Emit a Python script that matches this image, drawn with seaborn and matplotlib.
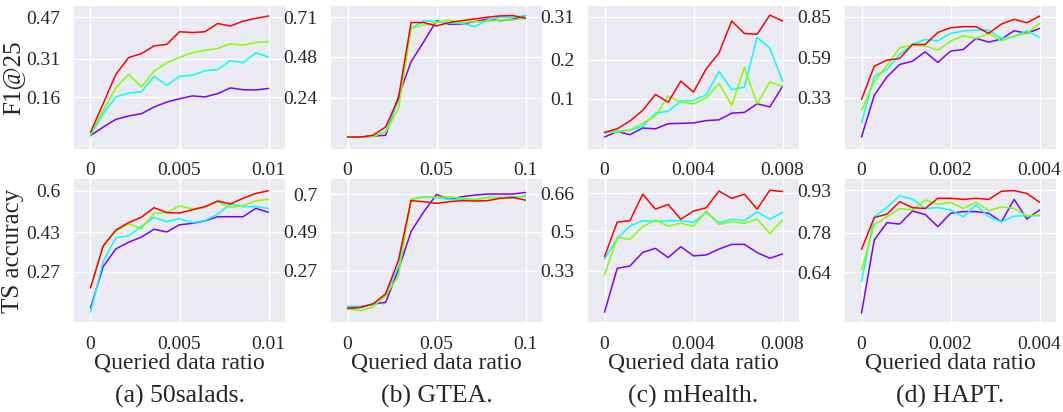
import numpy as np
import pandas as pd
import matplotlib
matplotlib.use('Agg')
import matplotlib.pyplot as plt
import seaborn as sns

sns.set_theme(style='darkgrid')
plt.rcParams['font.family'] = ['Liberation Serif', 'DejaVu Serif']

# method order: red, green, cyan, purple
methods = ['red', 'green', 'cyan', 'purple']
palette = {'red': '#ff0000', 'green': '#80ff00', 'cyan': '#00ffff', 'purple': '#8000ff'}

datasets = ['50salads', 'GTEA', 'mHealth', 'HAPT']
captions = ['(a) 50salads.', '(b) GTEA.', '(c) mHealth.', '(d) HAPT.']
ratio_max = [0.01, 0.1, 0.008, 0.004]
xtick_vals = [[0, 0.005, 0.01], [0, 0.05, 0.1], [0, 0.004, 0.008], [0, 0.002, 0.004]]
xtick_labels = [['0', '0.005', '0.01'], ['0', '0.05', '0.1'], ['0', '0.004', '0.008'], ['0', '0.002', '0.004']]

# F1@25
f1_50salads = {
    'red':    [0.024, 0.135, 0.249, 0.314, 0.329, 0.359, 0.365, 0.414, 0.411, 0.414, 0.446, 0.436, 0.455, 0.466, 0.475],
    'green':  [0.018, 0.109, 0.197, 0.249, 0.200, 0.261, 0.294, 0.314, 0.333, 0.342, 0.349, 0.367, 0.362, 0.372, 0.376],
    'cyan':   [0.011, 0.096, 0.161, 0.176, 0.181, 0.241, 0.206, 0.241, 0.245, 0.263, 0.267, 0.302, 0.294, 0.332, 0.316],
    'purple': [0.011, 0.044, 0.074, 0.087, 0.096, 0.122, 0.141, 0.154, 0.165, 0.161, 0.174, 0.196, 0.189, 0.188, 0.194],
}
f1_gtea = {
    'red':    [0.009, 0.009, 0.019, 0.068, 0.234, 0.679, 0.679, 0.659, 0.679, 0.690, 0.700, 0.710, 0.718, 0.720, 0.704],
    'green':  [0.009, 0.009, 0.013, 0.038, 0.175, 0.645, 0.665, 0.679, 0.694, 0.679, 0.685, 0.685, 0.694, 0.694, 0.704],
    'cyan':   [0.009, 0.009, 0.013, 0.042, 0.224, 0.645, 0.690, 0.683, 0.675, 0.675, 0.655, 0.694, 0.710, 0.710, 0.720],
    'purple': [0.009, 0.009, 0.015, 0.019, 0.244, 0.450, 0.567, 0.690, 0.669, 0.671, 0.685, 0.698, 0.690, 0.698, 0.720],
}
f1_mhealth = {
    'red':    [0.014, 0.023, 0.043, 0.070, 0.111, 0.091, 0.145, 0.117, 0.177, 0.217, 0.299, 0.267, 0.265, 0.314, 0.299],
    'green':  [0.014, 0.014, 0.020, 0.037, 0.055, 0.107, 0.091, 0.087, 0.102, 0.139, 0.083, 0.180, 0.087, 0.143, 0.131],
    'cyan':   [0.012, 0.017, 0.019, 0.029, 0.063, 0.068, 0.094, 0.096, 0.110, 0.170, 0.123, 0.130, 0.257, 0.229, 0.145],
    'purple': [0.002, 0.016, 0.008, 0.025, 0.023, 0.036, 0.037, 0.038, 0.044, 0.046, 0.063, 0.065, 0.087, 0.079, 0.132],
}
f1_hapt = {
    'red':    [0.321, 0.533, 0.572, 0.583, 0.672, 0.672, 0.749, 0.779, 0.786, 0.786, 0.743, 0.803, 0.833, 0.811, 0.854],
    'green':  [0.251, 0.433, 0.540, 0.651, 0.668, 0.662, 0.636, 0.694, 0.728, 0.711, 0.743, 0.696, 0.726, 0.743, 0.807],
    'cyan':   [0.170, 0.469, 0.512, 0.608, 0.672, 0.704, 0.696, 0.743, 0.758, 0.764, 0.764, 0.711, 0.722, 0.760, 0.717],
    'purple': [0.080, 0.347, 0.465, 0.544, 0.565, 0.625, 0.557, 0.630, 0.640, 0.711, 0.687, 0.707, 0.760, 0.743, 0.775],
}

# TS accuracy
ts_50salads = {
    'red':    [0.204, 0.375, 0.440, 0.470, 0.492, 0.531, 0.511, 0.509, 0.522, 0.535, 0.558, 0.546, 0.569, 0.589, 0.600],
    'green':  [0.204, 0.373, 0.436, 0.465, 0.446, 0.508, 0.511, 0.538, 0.526, 0.532, 0.555, 0.532, 0.539, 0.559, 0.565],
    'cyan':   [0.105, 0.312, 0.409, 0.416, 0.454, 0.492, 0.474, 0.486, 0.470, 0.478, 0.504, 0.546, 0.535, 0.535, 0.528],
    'purple': [0.122, 0.291, 0.363, 0.390, 0.411, 0.443, 0.432, 0.461, 0.467, 0.477, 0.494, 0.494, 0.494, 0.528, 0.512],
}
ts_gtea = {
    'red':    [0.061, 0.065, 0.084, 0.141, 0.328, 0.663, 0.657, 0.648, 0.657, 0.663, 0.661, 0.663, 0.676, 0.681, 0.666],
    'green':  [0.056, 0.048, 0.067, 0.130, 0.242, 0.672, 0.681, 0.681, 0.685, 0.676, 0.670, 0.681, 0.681, 0.676, 0.694],
    'cyan':   [0.071, 0.071, 0.080, 0.136, 0.294, 0.670, 0.685, 0.681, 0.670, 0.670, 0.666, 0.681, 0.681, 0.685, 0.685],
    'purple': [0.059, 0.065, 0.084, 0.093, 0.275, 0.490, 0.601, 0.698, 0.670, 0.685, 0.694, 0.700, 0.700, 0.700, 0.709],
}
ts_mhealth = {
    'red':    [0.391, 0.538, 0.544, 0.657, 0.593, 0.613, 0.550, 0.585, 0.599, 0.670, 0.639, 0.657, 0.593, 0.674, 0.668],
    'green':  [0.313, 0.472, 0.465, 0.518, 0.547, 0.521, 0.533, 0.521, 0.585, 0.528, 0.540, 0.533, 0.550, 0.490, 0.547],
    'cyan':   [0.380, 0.469, 0.521, 0.544, 0.540, 0.544, 0.544, 0.537, 0.579, 0.535, 0.550, 0.544, 0.582, 0.550, 0.579],
    'purple': [0.154, 0.341, 0.351, 0.409, 0.426, 0.387, 0.433, 0.394, 0.398, 0.423, 0.443, 0.443, 0.408, 0.384, 0.402],
}
ts_hapt = {
    'red':    [0.721, 0.833, 0.845, 0.889, 0.868, 0.865, 0.901, 0.901, 0.897, 0.901, 0.897, 0.926, 0.928, 0.918, 0.887],
    'green':  [0.648, 0.807, 0.836, 0.865, 0.860, 0.895, 0.880, 0.887, 0.865, 0.887, 0.857, 0.871, 0.865, 0.838, 0.842],
    'cyan':   [0.607, 0.836, 0.869, 0.910, 0.898, 0.865, 0.868, 0.860, 0.836, 0.877, 0.836, 0.818, 0.838, 0.840, 0.840],
    'purple': [0.496, 0.754, 0.815, 0.810, 0.856, 0.844, 0.801, 0.848, 0.854, 0.854, 0.848, 0.818, 0.897, 0.828, 0.860],
}

f1_data = [f1_50salads, f1_gtea, f1_mhealth, f1_hapt]
ts_data = [ts_50salads, ts_gtea, ts_mhealth, ts_hapt]

f1_yticks = [[0.16, 0.31, 0.47], [0.24, 0.48, 0.71], [0.1, 0.2, 0.31], [0.33, 0.59, 0.85]]
ts_yticks = [[0.27, 0.43, 0.6], [0.27, 0.49, 0.7], [0.33, 0.5, 0.66], [0.64, 0.78, 0.93]]
f1_ylim = [(-0.043, 0.518), (-0.064, 0.782), (-0.030, 0.340), (0.0, 0.925)]
ts_ylim = [(0.061, 0.65), (-0.0225, 0.7875), (0.108, 0.724), (0.461, 0.971)]

fig, axes = plt.subplots(2, 4, figsize=(10.63, 4.12), dpi=100)
fig.subplots_adjust(left=0.0687, right=0.9944, top=0.988, bottom=0.216, wspace=0.207, hspace=0.2)


def to_frame(d, xmax):
    x = np.linspace(0, xmax, len(d['red']))
    rows = []
    for m in ['purple', 'cyan', 'green', 'red']:
        for xi, yi in zip(x, d[m]):
            rows.append({'ratio': xi, 'value': yi, 'method': m})
    return pd.DataFrame(rows)


for row, (data, yticks, ylims) in enumerate([(f1_data, f1_yticks, f1_ylim), (ts_data, ts_yticks, ts_ylim)]):
    for col in range(4):
        ax = axes[row, col]
        df = to_frame(data[col], ratio_max[col])
        sns.lineplot(data=df, x='ratio', y='value', hue='method', palette=palette,
                     linewidth=1.1, legend=False, ax=ax, sort=False)
        xm = ratio_max[col]
        ax.set_xlim(-0.098 * xm, 1.098 * xm)
        ax.set_ylim(*ylims[col])
        ax.set_xticks(xtick_vals[col])
        ax.set_xticklabels(xtick_labels[col])
        ax.set_yticks(yticks[col])
        ax.set_yticklabels([str(v) for v in yticks[col]])
        ax.tick_params(labelsize=14, pad=3)
        ax.set_ylabel('')
        if row == 1:
            ax.set_xlabel('Queried data ratio', fontsize=17, labelpad=0)
        else:
            ax.set_xlabel('')

axes[0, 0].set_ylabel('F1@25', fontsize=18)
axes[1, 0].set_ylabel('TS accuracy', fontsize=18)
axes[0, 0].yaxis.set_label_coords(-0.23, 0.5)
axes[1, 0].yaxis.set_label_coords(-0.23, 0.5)

for col in range(4):
    pos = axes[1, col].get_position()
    fig.text((pos.x0 + pos.x1) / 2, 1 - 396 / 412, captions[col], ha='center', va='center', fontsize=18.5)

fig.savefig('out.png', dpi=100)
